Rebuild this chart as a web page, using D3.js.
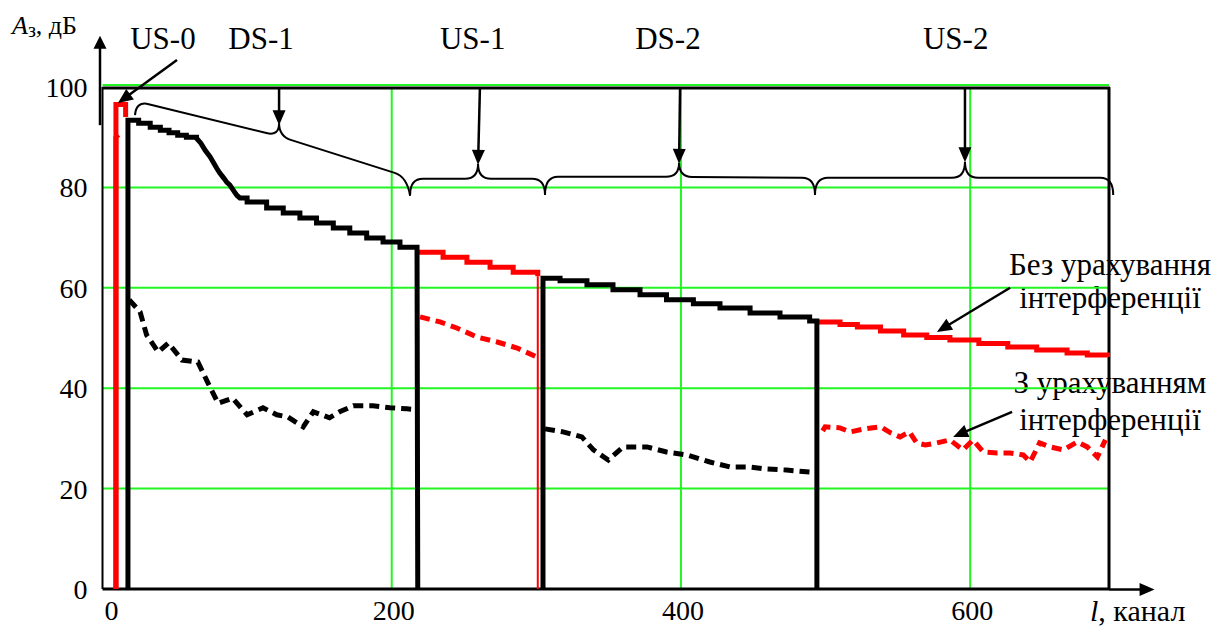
<!DOCTYPE html>
<html><head><meta charset="utf-8">
<script src="https://cdn.jsdelivr.net/npm/d3@7"></script>
<style>
@font-face { font-family: "ChartSerif"; src: local("Liberation Serif"), local("LiberationSerif"), local("Times New Roman"); }
</style>
</head><body style="margin:0">
<svg id="c" width="1217" height="631"></svg>
<script>
// ---------- data (channel, dB) ----------
const xTicks = [0, 200, 400, 600];
const yTicks = [0, 20, 40, 60, 80, 100];
const segmentNames = ["US-0", "DS-1", "US-1", "DS-2", "US-2"];

const usZeroSolid  = [[9.3,0],[9.3,96.5],[16,96.5],[16,94]];
const usZeroDashed = [[9.3,0],[9.3,90],[11,90.5]];

const dsOneSolid = [[17.6,0],[17.6,93.4],[25,92.8],[33,92.0],[40,91.4],[46,90.9],[52,90.4],[58,90.0],[65,89.8],
  [68,88.8],[71,87.4],[74.4,86.1],[77,84.8],[79,83.8],[81,82.9],[84,81.8],[86,81.0],[88,80.5],[91,79.2],[93,78.4],
  [95,77.9],[100,77.1],[113.5,75.9],[125,74.9],[136.5,73.9],[148,72.9],[159.6,71.9],[171,70.9],[182.7,69.9],
  [194,69.1],[205.7,68.1],[217.5,67.5],[218,0]];
const dsOneDashed = [[18.5,57.6],[26,55.2],[30.5,50.6],[38.5,47.2],[45.5,49.0],[55,45.6],[66,45.2],[73,41.0],
  [80,37.0],[90,38.0],[100,34.7],[111,36.1],[120.5,34.7],[128,34.3],[138.8,32.3],[145.8,35.3],[157,34.1],
  [164,35.3],[173.5,36.5],[187,36.5],[198.8,36.1],[210.5,35.9],[218,35.7]];

const usOneSolid  = [[218,67.1],[235.5,66.1],[252,65.1],[268,64.1],[284,63.1],[301,62.3]];
const usOneEdge   = [[301,62.3],[301,0]];
const usOneDashed = [[219.6,54.2],[233.4,53.2],[245,52.0],[259,50.2],[273,49.2],[286.7,48.0],[300.5,46.2]];

const dsTwoSolid = [[304.6,0],[304.6,61.9],[316.4,61.4],[335,60.6],[353,59.6],[371.7,58.6],[390,57.6],[408.6,56.8],
  [427,56.0],[447.8,55.0],[468.5,54.2],[489,53.4],[494,53.0],[494,0]];
const dsTwoDashed = [[306,31.9],[318.5,31.3],[331.5,30.3],[339.5,27.7],[349.8,25.7],[360,28.3],[376.6,28.3],
  [390,27.3],[404,26.7],[420,25.3],[434,24.3],[447.8,24.3],[459.4,23.9],[473,23.7],[489,23.3],[493,23.3]];

const usTwoSolid = [[494,53.2],[510,52.7],[522,52.2],[538,51.4],[554,50.6],[570,50.1],[586,49.6],[606,48.9],
  [626,48.2],[646,47.6],[667,47.0],[681,46.6],[695,46.2]];
const usTwoDashed = [[498,31.5],[499.7,32.3],[510,32.1],[517,31.3],[527,31.9],[538,32.3],[545,31.1],[551.5,30.3],
  [558,31.3],[563,29.1],[569,28.7],[577,29.1],[586,29.7],[595,27.7],[602,29.7],[609,27.3],[618.6,27.1],
  [627.6,27.1],[636.7,26.7],[641.5,25.3],[648,29.1],[655.4,28.3],[664.4,27.7],[674,29.3],[681,28.3],
  [688,26.3],[693.5,29.7]];

// ---------- layout ----------
const svg = d3.select("#c");
const x = d3.scaleLinear().domain([0,696]).range([102.5,1109]);
const y = d3.scaleLinear().domain([0,100]).range([589,87]);
const GREEN = "#22f522", RED = "#ff0000", BLACK = "#000";

// text layer first, with its own font settings
const tg = svg.append("g").attr("font-family", "Liberation Serif");
function T(size, italic){
  const t = tg.append("text");
  t.attr("style", `font-family: 'Liberation Serif', ChartSerif; font-size: ${size}px;` + (italic ? " font-style: italic;" : ""));
  return t;
}

// grid
const g = svg.append("g");
g.selectAll(".gy").data(yTicks.filter(d=>d>0)).enter().append("line")
  .attr("x1",x(0)).attr("x2",x(696)).attr("y1",d=>y(d)-(d===100?2:0)).attr("y2",d=>y(d)-(d===100?2:0))
  .attr("stroke",GREEN).attr("stroke-width",2);
g.selectAll(".gx").data(xTicks.filter(d=>d>0)).enter().append("line")
  .attr("x1",d=>x(d)).attr("x2",d=>x(d)).attr("y1",y(0)).attr("y2",y(100))
  .attr("stroke",GREEN).attr("stroke-width",2);

// frame
g.append("line").attr("x1",x(0)).attr("x2",x(0)).attr("y1",y(100)).attr("y2",y(0)).attr("stroke",BLACK).attr("stroke-width",2);
g.append("line").attr("x1",x(0)).attr("x2",x(696)+1).attr("y1",y(100)+1).attr("y2",y(100)+1).attr("stroke",BLACK).attr("stroke-width",3);
g.append("line").attr("x1",x(696)).attr("x2",x(696)).attr("y1",y(100)).attr("y2",y(0)).attr("stroke",BLACK).attr("stroke-width",3);
g.append("line").attr("x1",x(0)).attr("x2",x(696)).attr("y1",y(0)).attr("y2",y(0)).attr("stroke",BLACK).attr("stroke-width",3);

// arrows helper
function arrow(sel, a, b, len, w, sw){
  const [x1,y1]=a,[x2,y2]=b, dx=x2-x1, dy=y2-y1, l=Math.hypot(dx,dy), ux=dx/l, uy=dy/l;
  const bx=x2-ux*len, by=y2-uy*len;
  sel.append("line").attr("x1",x1).attr("y1",y1).attr("x2",bx+ux*1).attr("y2",by+uy*1)
    .attr("stroke",BLACK).attr("stroke-width",sw);
  sel.append("path").attr("d",`M${x2},${y2}L${bx-uy*w/2},${by+ux*w/2}L${bx+uy*w/2},${by-ux*w/2}Z`).attr("fill",BLACK);
}
const P = d => [x(d[0]), y(d[1])];

// axis arrows
arrow(svg, [x(0)-2.5, y(92.4)], [x(0)-2.5, y(110.2)], 13, 13, 2.5);
arrow(svg, [x(696), y(0)+0.5], [x(727.5), y(0)+0.5], 15, 13, 2.5);

// series lines
const line = d3.line().x(d=>x(d[0])).y(d=>y(d[1]));
function stairs(data){
  const p = data.map(P);
  let s = `M${p[0]}`;
  for (let i=1;i<p.length;i++){
    const a=p[i-1], b=p[i];
    if (data[i][0]-data[i-1][0] > 4) s += `L${b[0]},${a[1]}L${b}`;
    else s += `L${b}`;
  }
  return s;
}
function draw(data, gen, color, w, dash){
  const p = svg.append("path").attr("d",gen(data)).attr("fill","none").attr("stroke",color)
    .attr("stroke-width",w).attr("stroke-linejoin","miter");
  if (dash) p.attr("stroke-dasharray",dash);
  return p;
}
const DASH = "10,6";
draw(usZeroDashed, line, RED, 5, null);
draw(usZeroSolid, line, RED, 5, null);
draw(usOneSolid, stairs, RED, 5, null);
draw(usOneDashed, line, RED, 5, DASH);
draw(usOneEdge, line, RED, 2, null);
draw(usTwoSolid, stairs, RED, 5, null);
draw(usTwoDashed, line, RED, 5, DASH);
draw(dsOneSolid, stairs, BLACK, 5, null);
draw(dsOneDashed, line, BLACK, 5, DASH);
draw(dsTwoSolid, stairs, BLACK, 5, null);
draw(dsTwoDashed, line, BLACK, 5, DASH);

// braces (data units): [end, corner, mid, tip, corner, end]
const braces = [
  [[22.5,94.4],[23.2,97.2],[122.1,90.2],[122.1,92.8],[210.6,82.1],[212.7,78.3]],
  [[212.7,78.5],[212.7,81.7],[259.7,81.7],[259.7,84.7],[306,81.7],[306,78.5]],
  [[306,78.5],[306,82.1],[398.7,82.1],[398.7,84.9],[492.7,81.9],[492.7,78.5]],
  [[492.7,78.5],[492.7,81.9],[596.4,81.9],[596.4,85.1],[698.9,81.9],[698.9,78.5]]
];
function bracePath(pts, r){
  const [p0,p1,pm,tip,p2,p3] = pts.map(P);
  const unit=(a,b)=>{const dx=b[0]-a[0],dy=b[1]-a[1],l=Math.hypot(dx,dy);return [dx/l,dy/l];};
  const u=unit(p1,pm), v=unit(pm,p2);
  return `M${p0}Q${p1} ${p1[0]+r*u[0]},${p1[1]+r*u[1]}L${pm[0]-r*u[0]},${pm[1]-r*u[1]}Q${pm} ${tip}`+
         `Q${pm} ${pm[0]+r*v[0]},${pm[1]+r*v[1]}L${p2[0]-r*v[0]},${p2[1]-r*v[1]}Q${p2} ${p3}`;
}
svg.selectAll(".br").data(braces).enter().append("path")
  .attr("d",d=>bracePath(d,13)).attr("fill","none").attr("stroke",BLACK).attr("stroke-width",2);

// pointer arrows (data units)
const pointers = [
  [[51.5,105.4],[10.7,96.8]],
  [[122.1,100],[122.1,92.4]],
  [[261,100],[259.7,84.5]],
  [[399.4,100],[398.7,84.7]],
  [[596.4,100],[596.4,85.0]],
  [[627.6,60.0],[577,51.2]],
  [[629,35.3],[588.2,30.3]]
];
pointers.forEach(p => arrow(svg, P(p[0]), P(p[1]), 15, 13, 2.5));

// ---------- texts ----------
yTicks.forEach(d => T(28).attr("x",x(0)-15).attr("y",y(d)+10).attr("text-anchor","end").text(d));
xTicks.forEach(d => T(28).attr("x",x(d)+(d===0?9:2)).attr("y",620).attr("text-anchor","middle").text(d));

const yt = T(26).attr("x",12).attr("y",34);
yt.append("tspan").attr("font-style","italic").text("A");
yt.append("tspan").attr("font-size",20).attr("dy",3).text("з");
yt.append("tspan").attr("dy",-3).text(", дБ");
const xt = T(30).attr("x",1090).attr("y",621);
xt.append("tspan").attr("font-style","italic").text("l");
xt.append("tspan").text(", канал");

const segLabelX = [41.8, 109.6, 256, 391, 590];
segmentNames.forEach((d,i) => T(31).attr("x",x(segLabelX[i])).attr("y",y(107.6)).attr("text-anchor","middle").text(d));

const legendLines = [["Без урахування", 62.5], ["інтерференції", 56.0], ["З урахуванням", 39.0], ["інтерференції", 31.7]];
legendLines.forEach(d => T(31).attr("x",x(696.7)).attr("y",y(d[1])).attr("text-anchor","middle").text(d[0]));
</script>
</body></html>
